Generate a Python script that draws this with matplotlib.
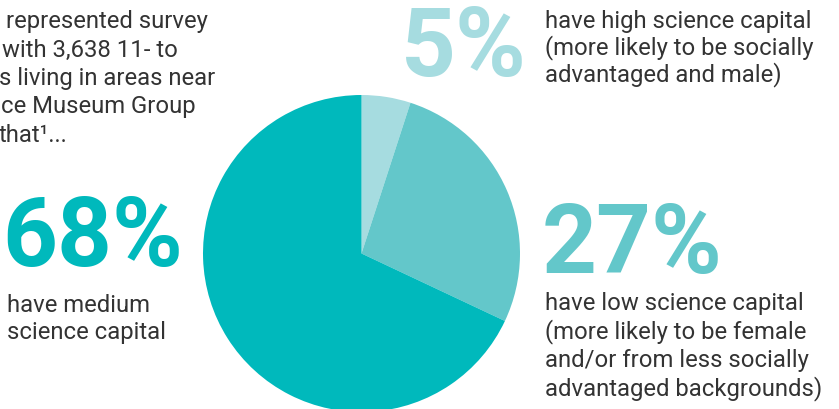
import matplotlib.pyplot as plt

W, H = 839, 409

shares = [5, 27, 68]
labels = ["5%", "27%", "68%"]
colours = ["#a6dce0", "#63c7ca", "#00b9bc"]
captions = [
    ["have high science capital", "(more likely to be socially", "advantaged and male)"],
    ["have low science capital", "(more likely to be female",
     "and/or from less socially", "advantaged backgrounds)"],
    ["have medium", "science capital"],
]
intro = ["represented survey", "with 3,638 11- to", "s living in areas near",
         "ce Museum Group", "that\u00b9..."]

body = dict(family="Roboto", fontsize=17.2, color="#333333", va="baseline")
big = dict(family="Roboto", fontweight="bold", fontsize=69, va="baseline")

fig = plt.figure(figsize=(W / 100, H / 100), dpi=100)

# pie centred at (361.5, 253.5) px, radius ~158.5 px, runs off bottom of canvas
cx, cy, r = 361.5, 253.5, 158.5
ax = fig.add_axes([(cx - r) / W, (H - cy - r) / H, 2 * r / W, 2 * r / H])
ax.pie(shares, colors=colours, startangle=90, counterclock=False,
       wedgeprops=dict(linewidth=0))
ax.set_xlim(-1, 1)
ax.set_ylim(-1, 1)
ax.axis("off")

def px(x, y):
    return x / W, 1 - y / H

def block(lines, x, y0, step):
    for i, line in enumerate(lines):
        fig.text(*px(x, y0 + i * step), line, **body)

# intro paragraph, cut off on the left
for i, line in enumerate(intro):
    fig.text(*px([6, 2, -1, 1, -1][i], 28 + i * 28.5), line, **body)

# big numbers
fig.text(*px(401, 76), labels[0], color=colours[0], **big)
fig.text(*px(542, 273), labels[1], color=colours[1], **big)
fig.text(*px(2, 266), labels[2], color=colours[2], **big)

# captions
block(captions[0], 545, 28, 26.5)
block(captions[1], 545, 310, 28.5)
block(captions[2], 7, 312, 27)

fig.savefig("out.png", dpi=100)
